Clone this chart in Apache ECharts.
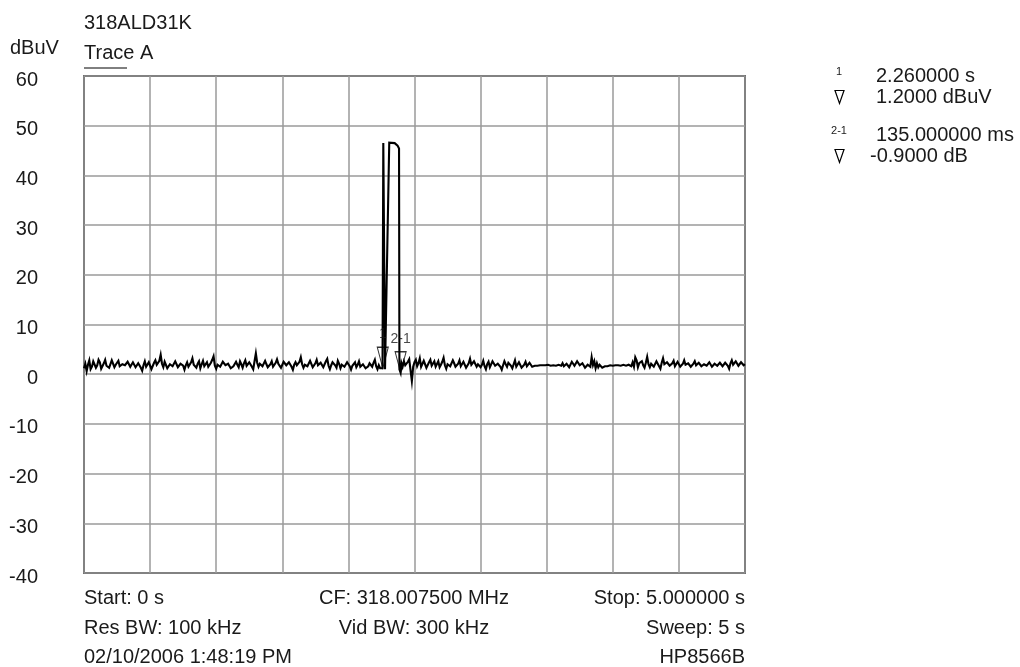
<!DOCTYPE html>
<html>
<head>
<meta charset="utf-8">
<script src="https://cdn.jsdelivr.net/npm/echarts@6/dist/echarts.min.js"></script>
<style>
html,body{margin:0;padding:0;background:#fff;}
#chart{width:1020px;height:667px;}
</style>
</head>
<body>
<div id="chart"></div>
<script>
// ---- data ----
var yTicks = [-40, -30, -20, -10, 0, 10, 20, 30, 40, 50, 60];
var sweepStart = 0, sweepStop = 5, noiseStep = 0.01;
// noise before the burst: t = 0 .. 2.24 s, one reading per 10 ms
var noiseA = [
  1.2,2.1,0.6,1.9,2.8,1.0,1.5,2.6,3.0,1.3,1.8,2.9,2.4,1.1,1.4,2.2,2.9,1.7,2.0,1.3,
  1.6,2.8,2.5,1.4,1.9,2.3,2.7,1.6,1.3,2.0,2.2,1.8,2.0,2.5,2.3,1.5,1.7,2.4,2.1,1.4,
  1.5,2.2,2.4,1.3,0.7,1.8,2.6,1.5,1.8,2.4,2.2,1.0,1.2,2.3,2.8,1.9,1.6,2.7,3.9,2.1,
  1.4,2.5,2.6,1.2,1.0,2.0,2.3,1.6,1.7,2.6,2.0,1.4,1.3,2.1,2.5,1.7,0.9,1.8,2.4,1.5,
  1.6,2.4,3.2,1.9,1.8,1.3,2.1,2.6,1.2,2.0,2.7,1.6,2.0,2.4,1.5,1.8,2.3,2.9,3.6,1.7,
  1.1,1.9,2.2,1.5,1.7,2.5,2.9,1.8,1.4,2.1,2.4,1.2,0.8,1.6,2.0,2.5,1.9,1.4,2.6,2.0,
  1.3,2.2,2.8,1.7,1.6,2.4,2.2,1.5,1.0,2.6,4.2,2.3,1.5,2.1,2.5,1.6,1.8,2.7,2.0,1.4,
  1.2,2.0,2.6,1.5,1.6,2.3,3.0,2.1,1.9,1.3,1.4,2.5,2.3,1.8,1.7,2.4,2.7,1.5,0.9,1.9,
  2.4,1.8,1.6,2.5,3.4,2.0,1.3,1.9,2.2,1.6,1.8,2.7,2.6,1.4,1.1,2.2,2.9,1.8,1.7,2.3,
  2.1,1.4,1.5,2.6,3.1,1.7,1.0,1.8,2.4,2.0,1.8,1.3,2.7,2.1,1.2,1.9,2.2,1.5,1.6,2.4,
  2.5,1.6,0.9,1.7,2.0,2.4,1.4,1.9,2.6,1.5,1.1,2.0,1.8,1.2,0.8,1.6,2.2,1.9,1.5,2.3,
  2.9,1.6,1.0,1.8,1.2
];
// burst: [time s, level dBuV]
var burst = [
  [2.250, 0.8], [2.258, 1.2], [2.264, 46.5], [2.272, 46.5], [2.277, 1.0], [2.282, 0.6],
  [2.309, 46.6], [2.350, 46.5], [2.372, 46.0], [2.383, 45.4], [2.386, 1.0],
  [2.395, 0.3], [2.402, 2.2], [2.410, 1.5]
];
// noise after the burst: t = 2.42 .. 5.00 s, one reading per 10 ms
var noiseBStart = 2.42;
var noiseB = [
  2.6,1.8,1.4,2.5,3.0,0.8,-1.4,1.5,2.4,2.9,1.6,2.2,3.2,1.5,1.8,2.7,2.5,1.3,1.2,2.4,
  2.9,1.7,2.0,2.6,1.5,1.9,2.6,1.4,1.9,2.5,3.3,1.8,1.1,2.0,2.4,1.6,1.7,2.8,2.2,1.5,
  1.3,2.1,2.8,1.6,1.9,2.5,2.4,1.3,1.2,2.2,3.1,1.9,1.6,2.6,2.3,1.5,2.0,2.4,1.4,1.9,
  2.7,1.6,1.0,2.0,2.5,1.4,1.8,2.6,2.9,1.7,1.3,2.1,2.2,1.5,0.9,1.8,2.6,2.0,1.5,2.3,
  2.3,1.7,1.2,2.0,2.8,1.5,1.6,2.4,2.1,1.3,1.0,1.9,2.5,1.6,1.4,2.3,2.2,1.5,1.1,1.7,
  1.8,1.7,1.6,1.8,1.9,1.8,1.7,1.8,1.8,1.9,1.8,1.7,1.9,1.8,1.6,1.7,1.8,1.9,1.5,1.7,
  2.2,1.6,1.3,2.1,1.9,1.4,1.6,2.5,2.8,1.7,1.4,2.6,2.2,1.8,1.5,2.2,2.4,1.3,1.1,1.9,
  2.0,1.5,3.4,1.8,2.6,1.2,2.2,1.4,1.9,1.6,1.3,1.5,1.6,1.7,1.6,1.7,1.8,1.7,1.7,1.8,
  1.8,1.7,1.8,1.8,1.7,1.8,1.9,1.8,1.7,1.8,1.9,2.2,1.6,2.4,1.5,3.4,2.8,1.4,2.2,2.6,
  2.6,1.8,1.3,2.3,3.5,2.0,1.4,2.1,2.2,1.5,1.8,2.6,2.9,1.6,1.1,2.3,3.2,2.0,1.7,2.4,
  2.3,1.7,1.5,2.2,2.7,1.6,1.9,2.5,2.4,1.5,1.3,2.1,2.8,1.9,1.6,2.2,2.0,1.5,1.4,2.1,
  2.6,1.8,1.7,2.3,2.1,1.6,1.5,2.0,2.3,1.7,1.9,2.4,2.0,1.5,1.6,2.1,2.2,1.7,1.8,2.3,
  2.0,1.6,1.4,2.3,2.6,1.7,1.1,2.2,2.8,1.9,1.5,2.6,2.9,1.7,1.3,2.4,2.5,1.8,2.0
];
var markers = [
  {name: '1', t: 2.26, level: 1.2},
  {name: '2-1', t: 2.395, level: 0.3}
];
var headerTexts = ['318ALD31K', 'Trace A', 'dBuV'];
var markerReadout = [
  ['1', '2.260000 s', '1.2000 dBuV'],
  ['2-1', '135.000000 ms', '-0.9000 dB']
];
var footerLeft = ['Start: 0 s', 'Res BW: 100 kHz', '02/10/2006 1:48:19 PM'];
var footerCenter = ['CF: 318.007500 MHz', 'Vid BW: 300 kHz'];
var footerRight = ['Stop: 5.000000 s', 'Sweep: 5 s', 'HP8566B'];

// ---- build trace ----
var trace = [];
noiseA.forEach(function (v, i) { trace.push([+(sweepStart + i * noiseStep).toFixed(3), v]); });
burst.forEach(function (p) { trace.push(p); });
noiseB.forEach(function (v, i) { trace.push([+(noiseBStart + i * noiseStep).toFixed(3), v]); });

var FONT = '"Liberation Sans", Arial, sans-serif';
var FS = 20;
var L = 84, R = 745, T = 76, B = 573;
var chart = echarts.init(document.getElementById('chart'), null, {renderer: 'canvas'});

var graphics = [];
function txt(x, y, s, size, align) {
  graphics.push({type: 'text', x: x, y: y, style: {text: s, fill: '#1a1a1a', font: size + 'px ' + FONT, textAlign: align || 'left', textVerticalAlign: 'middle'}});
}
txt(84, 23, headerTexts[0], FS);
txt(84, 53, headerTexts[1], FS);
txt(10, 48, headerTexts[2], FS);
graphics.push({type: 'line', shape: {x1: 84, y1: 68, x2: 127, y2: 68}, style: {stroke: '#000', lineWidth: 1}});

function nabla(cx, cy) {
  graphics.push({type: 'polygon', shape: {points: [[cx - 4.5, cy - 6.5], [cx + 4.5, cy - 6.5], [cx, cy + 6.5]]}, style: {fill: 'none', stroke: '#000', lineWidth: 1.2}});
}
var ry = [76, 135];
markerReadout.forEach(function (m, i) {
  txt(839, ry[i] - 4, m[0], 11, 'center');
  txt(876, ry[i], m[1], FS);
  nabla(839.5, ry[i] + 21);
  txt(i === 0 ? 876 : 870, ry[i] + 21, m[2], FS);
});
var fy = [598, 628, 657];
footerLeft.forEach(function (s, i) { txt(84, fy[i], s, FS); });
footerCenter.forEach(function (s, i) { txt(414, fy[i], s, FS, 'center'); });
footerRight.forEach(function (s, i) { txt(745, fy[i], s, FS, 'right'); });

chart.setOption({
  animation: false,
  backgroundColor: '#fff',
  grid: {left: L, top: T, width: R - L, height: B - T, show: true, borderColor: '#000', borderWidth: 1.5, backgroundColor: 'transparent'},
  xAxis: {
    type: 'value', min: sweepStart, max: sweepStop, interval: 0.5,
    axisLine: {show: false}, axisTick: {show: false}, axisLabel: {show: false},
    splitLine: {show: true, lineStyle: {color: '#9a9a9a', width: 1.5}}
  },
  yAxis: {
    type: 'value', min: yTicks[0], max: yTicks[yTicks.length - 1], interval: 10,
    axisLine: {show: false}, axisTick: {show: false},
    axisLabel: {
      margin: 46, align: 'right', verticalAlign: 'middle',
      formatter: '{v|{value}}',
      rich: {v: {color: '#1a1a1a', fontSize: FS, fontFamily: FONT, padding: [8, 0, 0, 0]}}
    },
    splitLine: {show: true, lineStyle: {color: '#9a9a9a', width: 1.5}}
  },
  series: [
    {type: 'line', data: trace, symbol: 'none', lineStyle: {color: '#000', width: 2.1, join: 'miter'}, z: 3},
    {type: 'scatter', data: markers.map(function (m) { return {value: [m.t, m.level], name: m.name}; }),
      symbol: 'path://M0,0 L10,0 L5,20 Z', symbolSize: [11, 21], symbolOffset: [0, -10.5],
      itemStyle: {color: 'rgba(0,0,0,0)', borderColor: '#000', borderWidth: 1.2},
      label: {show: true, position: 'top', distance: 5, formatter: function (p) { return p.name; }, color: '#1a1a1a', fontSize: 14, fontFamily: FONT},
      z: 4}
  ],
  graphic: graphics
});
</script>
</body>
</html>
